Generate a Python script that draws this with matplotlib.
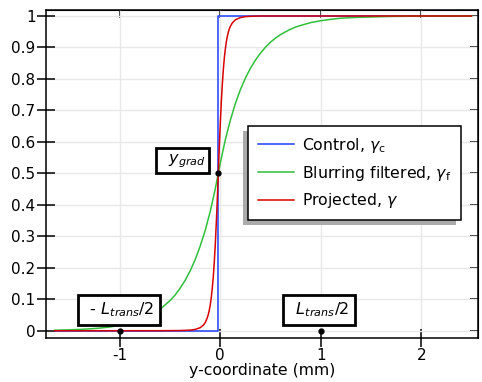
import numpy as np
import matplotlib
matplotlib.use("Agg")
import matplotlib.pyplot as plt
from matplotlib.patches import Rectangle

# control (step)
x_ctrl = [-1.65, -0.02, -0.02, 2.5]
y_ctrl = [0, 0, 1, 1]

# blurring filtered
x_filt = [-1.65, -1.5, -1.4, -1.3, -1.2, -1.1, -1.0, -0.9, -0.8, -0.7, -0.6, -0.5,
          -0.45, -0.4, -0.35, -0.3, -0.25, -0.2, -0.15, -0.1, -0.05, -0.02, 0.0,
          0.05, 0.1, 0.15, 0.2, 0.25, 0.3, 0.35, 0.4, 0.45, 0.5, 0.55, 0.6, 0.65,
          0.7, 0.75, 0.8, 0.9, 1.0, 1.1, 1.2, 1.3, 1.4, 1.7, 2.0, 2.5]
y_filt = [0.0018, 0.003, 0.0043, 0.006, 0.0085, 0.012, 0.017, 0.024, 0.034, 0.048,
          0.068, 0.096, 0.1135, 0.135, 0.160, 0.190, 0.226, 0.269, 0.319, 0.379,
          0.451, 0.5, 0.533, 0.607, 0.669, 0.722, 0.766, 0.803, 0.834, 0.860,
          0.882, 0.901, 0.917, 0.930, 0.941, 0.950, 0.958, 0.965, 0.970, 0.979,
          0.985, 0.9895, 0.993, 0.9947, 0.996, 0.9987, 0.9995, 1.0]

# projected
x_proj = [-1.65, -0.6, -0.4, -0.3, -0.25, -0.2, -0.17, -0.15, -0.13, -0.12, -0.11,
          -0.1, -0.09, -0.08, -0.07, -0.06, -0.05, -0.04, -0.03, -0.02, -0.01, 0.0,
          0.01, 0.02, 0.03, 0.04, 0.05, 0.06, 0.07, 0.08, 0.09, 0.1, 0.12, 0.15,
          0.2, 0.25, 0.3, 0.4, 2.5]
y_proj = [0.0, 0.0002, 0.0007, 0.002, 0.0042, 0.0098, 0.0174, 0.026, 0.041, 0.051,
          0.065, 0.082, 0.105, 0.135, 0.170, 0.218, 0.273, 0.341, 0.416, 0.5, 0.584,
          0.659, 0.727, 0.782, 0.829, 0.866, 0.895, 0.918, 0.935, 0.949, 0.959,
          0.967, 0.978, 0.988, 0.995, 0.998, 0.999, 1.0, 1.0]

labels = [r'Control, $\gamma_\mathrm{c}$', r'Blurring filtered, $\gamma_\mathrm{f}$',
          r'Projected, $\gamma$']
colors = ['#1f3dff', '#2fbf3a', '#d90000']

xticks = [-1, 0, 1, 2]
xticklabels = ['-1', '0', '1', '2']
yticks = [0, 0.1, 0.2, 0.3, 0.4, 0.5, 0.6, 0.7, 0.8, 0.9, 1]
yticklabels = ['0', '0.1', '0.2', '0.3', '0.4', '0.5', '0.6', '0.7', '0.8', '0.9', '1']

# marked points and their labels
pt_x = [-1.0, 1.0, -0.02]
pt_y = [0.0, 0.0, 0.5]
box_text = [r'$\;\,$- $L_{trans}$/2$\;\,$', r'$\;\,L_{trans}$/2$\;\,$',
            r'$\;\;y_{grad}\;\;$']
box_pad = [0.35, 0.35, 0.22]
box_x = [-1.01, 0.985, -0.375]
box_y = [0.067, 0.067, 0.54]

fig = plt.figure(figsize=(4.82, 3.82), dpi=100)
ax = fig.add_axes([0.0954, 0.116, 0.8963, 0.8586])

ax.plot(x_ctrl, y_ctrl, color=colors[0], lw=1.1, label=labels[0])
ax.plot(x_filt, y_filt, color=colors[1], lw=1.1, label=labels[1])
ax.plot(x_proj, y_proj, color=colors[2], lw=1.1, label=labels[2])
ax.plot(pt_x, pt_y, 'o', color='black', ms=3.5, zorder=5)

for t, p, bx, by in zip(box_text, box_pad, box_x, box_y):
    ax.text(bx, by, t, ha='center', va='center', fontsize=11.5, zorder=6,
            bbox=dict(boxstyle='square,pad=%.2f' % p, fc='white', ec='black', lw=2))

ax.set_xlim(-1.735, 2.565)
ax.set_ylim(-0.022, 1.02)
ax.set_xticks(xticks)
ax.set_xticklabels(xticklabels)
ax.set_yticks(yticks)
ax.set_yticklabels(yticklabels)
ax.grid(True, color='#e8e8e8', lw=1)
ax.set_axisbelow(True)
ax.tick_params(direction='inout', length=13, width=1.1, labelsize=11, pad=1)
for s in ax.spines.values():
    s.set_linewidth(1.1)

# inner ticks on top and right
top = ax.secondary_xaxis('top')
top.set_xticks(xticks)
top.tick_params(direction='in', length=6, width=1.2, color='black', labeltop=False)
right = ax.secondary_yaxis('right')
right.set_yticks(yticks)
right.tick_params(direction='in', length=6, width=1.2, color='black', labelright=False)

ax.set_xlabel('y-coordinate (mm)', fontsize=11.3, labelpad=0)

leg = ax.legend(loc='upper left', bbox_to_anchor=(0.4676, 0.645), fontsize=11.3,
                fancybox=False, edgecolor='black', framealpha=1, handlelength=2.3,
                labelspacing=0.55, borderpad=0.62, handletextpad=0.5,
                borderaxespad=0)
leg.get_frame().set_linewidth(1.1)
leg.set_zorder(8)

# offset shadow behind legend
fig.canvas.draw()
bb = leg.get_window_extent().transformed(fig.transFigure.inverted())
dx, dy = 5 / 482, 5 / 382
ax.add_patch(Rectangle((bb.x0 - dx, bb.y0 - dy), bb.width, bb.height,
                       transform=fig.transFigure, fc='#aaaaaa', ec='none',
                       zorder=7, clip_on=False))

fig.savefig('out.png', dpi=100)
